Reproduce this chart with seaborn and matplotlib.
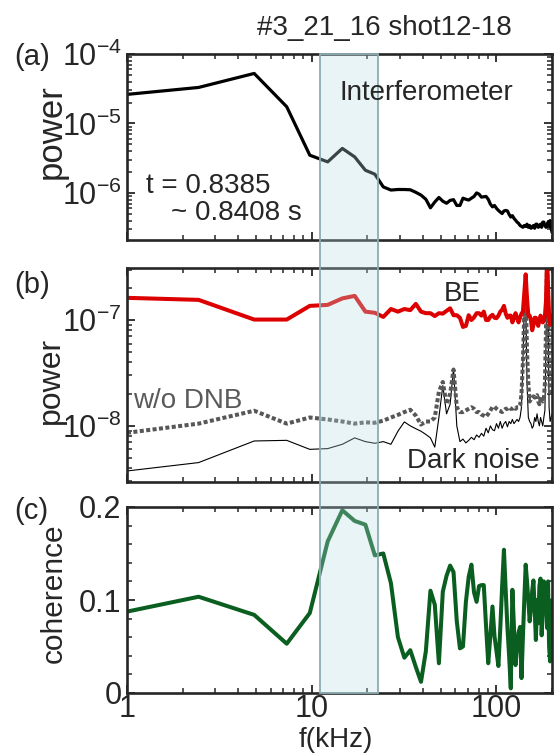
import numpy as np
import pandas as pd
import matplotlib
matplotlib.use("Agg")
import matplotlib.pyplot as plt
import matplotlib.transforms as mtransforms
from matplotlib.patches import Rectangle
from matplotlib.ticker import FuncFormatter, MultipleLocator, NullFormatter, LogLocator
import seaborn as sns

# ---------------- data ----------------
# FFT grid: first sample sits on the 1 kHz edge, then 2.44 kHz steps up to 200 kHz
freq_step = 2.4414
freq = np.r_[1.0, freq_step * np.arange(1, 83)]

# (a) interferometer power spectrum
power_interf = [
    2.62e-5, 3.3e-5, 5.25e-5, 1.74e-5, 3.49e-6, 2.8e-6, 4.37e-6, 3.3e-6, 2.12e-6, 1.86e-6,
    1.22e-6, 1.1e-6, 1.12e-6, 1.12e-6, 1.11e-6, 1.02e-6, 9.3e-7, 8.1e-7, 6.1e-7, 7.4e-7,
    8.6e-7, 7.6e-7, 7.1e-7, 7.8e-7, 8.0e-7, 6.6e-7, 6.6e-7, 8.4e-7, 8.1e-7, 7.9e-7,
    8.4e-7, 8.9e-7, 1.0e-6, 9.6e-7, 8.7e-7, 8.8e-7, 8.9e-7, 8.1e-7, 6.9e-7, 6.3e-7,
    6.6e-7, 6.0e-7, 5.6e-7, 5.3e-7, 5.05e-7, 5.5e-7, 5.6e-7, 5.5e-7, 4.9e-7, 4.5e-7,
    4.7e-7, 4.3e-7, 4.05e-7, 3.8e-7, 3.65e-7, 3.4e-7, 3.3e-7, 3.2e-7, 3.4e-7, 3.3e-7,
    3.55e-7, 3.2e-7, 3.4e-7, 3.1e-7, 3.2e-7, 3.4e-7, 3.1e-7, 3.55e-7, 3.55e-7, 3.2e-7,
    3.3e-7, 3.55e-7, 3.2e-7, 3.8e-7, 3.8e-7, 3.4e-7, 3.2e-7, 3.3e-7, 3.8e-7, 3.3e-7,
    4.0e-7, 3.1e-7, 2.7e-7,
]

# (b) beam emission, without DNB, dark noise
power_be = [
    1.62e-7, 1.55e-7, 1.01e-7, 1.01e-7, 1.36e-7, 1.39e-7, 1.6e-7, 1.69e-7, 1.2e-7, 1.17e-7,
    1.07e-7, 1.27e-7, 1.2e-7, 1.27e-7, 1.24e-7, 1.42e-7, 1.2e-7, 1.16e-7, 1.16e-7, 1.09e-7,
    1.16e-7, 1.15e-7, 1.22e-7, 1.29e-7, 1.11e-7, 1.11e-7, 1.05e-7, 8.6e-8, 8.8e-8, 1.11e-7,
    1.0e-7, 1.06e-7, 1.16e-7, 1.16e-7, 1.1e-7, 1.2e-7, 1.0e-7, 1.0e-7, 1.08e-7, 1.12e-7,
    1.05e-7, 1.04e-7, 1.1e-7, 1.2e-7, 1.25e-7, 1.36e-7, 1.15e-7, 1.05e-7, 1.1e-7, 1.1e-7,
    9.5e-8, 1.05e-7, 1.16e-7, 1.05e-7, 9.5e-8, 1.05e-7, 1.15e-7, 1.2e-7, 1.8e-7, 2.7e-7,
    1.6e-7, 1.1e-7, 1.1e-7, 1.0e-7, 8.0e-8, 9.0e-8, 1.05e-7, 1.05e-7, 9.5e-8, 8.8e-8,
    1.0e-7, 1.1e-7, 1.05e-7, 9.5e-8, 9.8e-8, 1.1e-7, 1.5e-7, 4.0e-7, 2.0e-7, 1.1e-7,
    9.0e-8, 1.0e-7, 1.1e-7,
]
power_wo_dnb = [
    8.6e-9, 1.05e-8, 1.39e-8, 1.05e-8, 1.2e-8, 1.15e-8, 1.1e-8, 1.05e-8, 1.08e-8, 1.07e-8,
    1.12e-8, 1.2e-8, 1.27e-8, 1.35e-8, 1.42e-8, 1.25e-8, 1.03e-8, 1.1e-8, 1.1e-8, 1.2e-8,
    2.1e-8, 2.6e-8, 1.6e-8, 2.0e-8, 3.4e-8, 1.5e-8, 1.35e-8, 1.35e-8, 1.4e-8, 1.45e-8,
    1.5e-8, 1.45e-8, 1.35e-8, 1.35e-8, 1.28e-8, 1.25e-8, 1.22e-8, 1.3e-8, 1.4e-8, 1.5e-8,
    1.52e-8, 1.45e-8, 1.4e-8, 1.38e-8, 1.35e-8, 1.4e-8, 1.45e-8, 1.45e-8, 1.5e-8, 1.45e-8,
    1.45e-8, 1.5e-8, 1.45e-8, 1.5e-8, 1.5e-8, 1.55e-8, 2.0e-8, 4.0e-8, 1.2e-7, 1.9e-7,
    5.0e-8, 2.5e-8, 1.7e-8, 1.8e-8, 1.8e-8, 1.9e-8, 1.85e-8, 1.9e-8, 1.95e-8, 1.7e-8,
    1.6e-8, 1.8e-8, 1.9e-8, 1.7e-8, 1.8e-8, 2.5e-8, 8.0e-8, 3.5e-7, 1.5e-7, 3.0e-8,
    2.0e-8, 2.0e-8, 2.0e-8,
]
power_dark = [
    3.75e-9, 4.5e-9, 7.2e-9, 7.3e-9, 6.0e-9, 6.1e-9, 6.7e-9, 7.7e-9, 7.1e-9, 6.85e-9,
    7.1e-9, 6.7e-9, 8.9e-9, 1.09e-8, 1.0e-8, 9.4e-9, 8.9e-9, 8.3e-9, 7.7e-9, 6.3e-9,
    1.2e-8, 2.4e-8, 1.3e-8, 1.6e-8, 3.5e-8, 1.0e-8, 7.1e-9, 7.5e-9, 6.9e-9, 7.3e-9,
    7.8e-9, 7.4e-9, 8.2e-9, 7.8e-9, 8.5e-9, 8.0e-9, 9.5e-9, 8.6e-9, 1.0e-8, 9.2e-9,
    9.0e-9, 1.05e-8, 9.5e-9, 1.1e-8, 9.5e-9, 1.05e-8, 1.1e-8, 9.8e-9, 1.1e-8, 1.05e-8,
    1.15e-8, 1.05e-8, 1.1e-8, 1.15e-8, 1.1e-8, 1.2e-8, 1.5e-8, 4.0e-8, 1.4e-7, 1.7e-7,
    2.5e-8, 1.2e-8, 1.1e-8, 1.05e-8, 9.5e-9, 1.0e-8, 1.2e-8, 1.1e-8, 1.3e-8, 1.1e-8,
    1.0e-8, 1.2e-8, 1.1e-8, 1.0e-8, 1.2e-8, 1.4e-8, 6.0e-8, 3.5e-7, 1.2e-7, 1.5e-8,
    1.1e-8, 1.2e-8, 1.3e-8,
]

# (c) coherence between interferometer and BE
coherence = [
    0.0875, 0.1035, 0.084, 0.053, 0.086, 0.163, 0.1965, 0.185, 0.181, 0.148,
    0.150, 0.118, 0.060, 0.038, 0.046, 0.028, 0.012, 0.045, 0.110, 0.095,
    0.032, 0.109, 0.126, 0.137, 0.130, 0.077, 0.048, 0.050, 0.098, 0.125,
    0.138, 0.108, 0.098, 0.115, 0.116, 0.116, 0.072, 0.032, 0.062, 0.093,
    0.061, 0.045, 0.029, 0.070, 0.115, 0.154, 0.110, 0.070, 0.040, 0.005,
    0.111, 0.070, 0.030, 0.050, 0.065, 0.071, 0.016, 0.060, 0.100, 0.138,
    0.120, 0.100, 0.077, 0.090, 0.110, 0.121, 0.090, 0.057, 0.100, 0.075,
    0.115, 0.123, 0.062, 0.090, 0.120, 0.116, 0.102, 0.070, 0.120, 0.050,
    0.034, 0.098, 0.100,
]

# highlighted interferometer band (kHz)
band_lo, band_hi = 11.1, 22.8

df = pd.DataFrame({
    "f": freq, "interf": power_interf, "be": power_be,
    "wo_dnb": power_wo_dnb, "dark": power_dark, "coh": coherence,
})

# ---------------- style ----------------
sns.set_style("ticks")
plt.rcParams["font.family"] = ["Liberation Sans", "DejaVu Sans"]
plt.rcParams["mathtext.fontset"] = "custom"
plt.rcParams["mathtext.rm"] = "Liberation Sans"
plt.rcParams["mathtext.default"] = "regular"
plt.rcParams["axes.unicode_minus"] = False

W, H = 554, 753
fig = plt.figure(figsize=(W / 100, H / 100), dpi=100)


def box(left, top, right, bottom):
    return [left / W, 1 - bottom / H, (right - left) / W, (bottom - top) / H]


def px(x, y):
    return x / W, 1 - y / H


ax_a = fig.add_axes(box(127, 54, 552, 240))
ax_b = fig.add_axes(box(127, 268, 552, 482))
ax_c = fig.add_axes(box(127, 507, 552, 693))

# ---------------- lines ----------------
sns.lineplot(data=df, x="f", y="interf", ax=ax_a, color="black", lw=2.3,
             estimator=None, sort=False)

sns.lineplot(data=df, x="f", y="dark", ax=ax_b, color="black", lw=0.8,
             estimator=None, sort=False)
sns.lineplot(data=df, x="f", y="wo_dnb", ax=ax_b, color="#575757", lw=2.9,
             estimator=None, sort=False)
ax_b.get_lines()[-1].set_linestyle((0, (1.0, 0.6)))
ax_b.get_lines()[-1].set_dash_capstyle("butt")
sns.lineplot(data=df, x="f", y="be", ax=ax_b, color="#dd0000", lw=2.9,
             estimator=None, sort=False)

sns.lineplot(data=df, x="f", y="coh", ax=ax_c, color="#0a5e1f", lw=2.9,
             estimator=None, sort=False)

# ---------------- axes ----------------
fmt_g = FuncFormatter(lambda v, p: f"{v:g}")
for ax in (ax_a, ax_b, ax_c):
    ax.set_xscale("log")
    ax.set_xlim(1, 200)
    ax.set_xlabel("")
    ax.set_ylabel("")
    ax.tick_params(which="both", direction="in", top=True, right=True,
                   labelsize=22, pad=4)
    ax.tick_params(which="major", length=6, width=1.3)
    ax.tick_params(which="minor", length=3.5, width=1.1)
    for s in ax.spines.values():
        s.set_linewidth(1.9)
        s.set_visible(True)
    ax.xaxis.set_minor_formatter(NullFormatter())

for ax in (ax_a, ax_b):
    ax.set_yscale("log")
    ax.yaxis.set_major_locator(LogLocator(base=10))
    ax.yaxis.set_minor_locator(LogLocator(base=10, subs=np.arange(2, 10)))
    ax.yaxis.set_minor_formatter(NullFormatter())
    ax.set_xticklabels([])
    ax.xaxis.set_major_formatter(NullFormatter())

ax_a.set_ylim(2.1e-7, 1e-4)
ax_b.set_ylim(2.95e-9, 3.1e-7)

ax_c.set_ylim(0, 0.2)
ax_c.yaxis.set_major_locator(MultipleLocator(0.1))
ax_c.yaxis.set_minor_locator(MultipleLocator(0.02))
ax_c.yaxis.set_major_formatter(fmt_g)
ax_c.xaxis.set_major_formatter(fmt_g)
ax_c.tick_params(axis="x", pad=1)

# ---------------- highlight band across all panels ----------------
trans = mtransforms.blended_transform_factory(ax_c.transData, fig.transFigure)
y0 = 1 - 693 / H
y1 = 1 - 54 / H
band = Rectangle((band_lo, y0), band_hi - band_lo, y1 - y0, transform=trans,
                 facecolor=(0.714, 0.863, 0.886, 0.31),
                 edgecolor="#8cacb2", linewidth=1.3, zorder=1)
fig.add_artist(band)

# ---------------- texts ----------------
fs = 20
fig.text(*px(384, 35), "#3_21_16 shot12-18", fontsize=fs, ha="center", va="baseline")
fig.text(*px(14, 65), "(a)", fontsize=fs + 1, ha="left", va="baseline")
fig.text(*px(14, 293), "(b)", fontsize=fs + 1, ha="left", va="baseline")
fig.text(*px(14, 519), "(c)", fontsize=fs + 1, ha="left", va="baseline")
fig.text(*px(340, 100), "Interferometer", fontsize=fs, ha="left", va="baseline")
fig.text(*px(146, 193), "t = 0.8385", fontsize=fs, ha="left", va="baseline")
fig.text(*px(302, 220), "~ 0.8408 s", fontsize=fs, ha="right", va="baseline")
fig.text(*px(462, 301), "BE", fontsize=fs, ha="center", va="baseline")
fig.text(*px(133, 408), "w/o DNB", fontsize=fs, color="#5a5a5a", ha="left", va="baseline")
fig.text(*px(540, 468), "Dark noise", fontsize=fs, ha="right", va="baseline")
fig.text(*px(51, 132), "power", fontsize=25, rotation=90, ha="center", va="center")
fig.text(*px(51, 380), "power", fontsize=23, rotation=90, ha="center", va="center")
fig.text(*px(54, 593), "coherence", fontsize=21.5, rotation=90, ha="center", va="center")
fig.text(*px(336, 747), "f(kHz)", fontsize=20, ha="center", va="baseline")

fig.savefig("out.png", dpi=100)
